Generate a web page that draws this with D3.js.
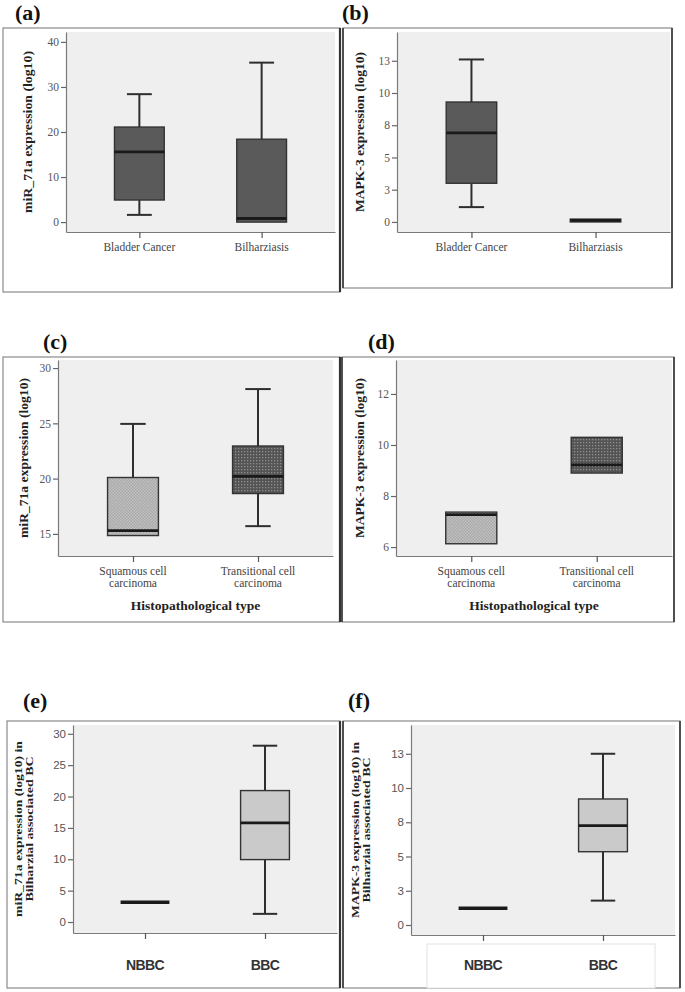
<!DOCTYPE html>
<html>
<head>
<meta charset="utf-8">
<script src="https://cdn.jsdelivr.net/npm/d3@7"></script>
<style>
  html, body { margin: 0; padding: 0; background: #ffffff; }
  svg { display: block; }
</style>
</head>
<body>
<div id="chart"></div>
<script>
// ---------------- DATA ----------------
// (a) miR_71a expression
const panelA_categories = ["Bladder Cancer", "Bilharziasis"];
const panelA_min    = [1.6, 0.0];
const panelA_q1     = [4.9, 0.0];
const panelA_median = [15.6, 0.8];
const panelA_q3     = [21.1, 18.4];
const panelA_max    = [28.4, 35.4];
const panelA_ticks = [0, 10, 20, 30, 40];
const panelA_tickLabels = ["0", "10", "20", "30", "40"];

// (b) MAPK-3 expression
const panelB_categories = ["Bladder Cancer", "Bilharziasis"];
const panelB_min    = [1.15, 0.0];
const panelB_q1     = [3.0, 0.0];
const panelB_median = [6.9, 0.12];
const panelB_q3     = [9.3, 0.22];
const panelB_max    = [12.6, 0.22];
const panelB_ticks = [0, 2.5, 5, 7.5, 10, 12.5];
const panelB_tickLabels = ["0", "3", "5", "8", "10", "13"];

// (c) miR_71a by histopathological type
const panelC_categories = [["Squamous cell", "carcinoma"], ["Transitional cell", "carcinoma"]];
const panelC_min    = [14.85, 15.7];
const panelC_q1     = [14.85, 18.65];
const panelC_median = [15.3, 20.2];
const panelC_q3     = [20.1, 22.95];
const panelC_max    = [24.95, 28.1];
const panelC_ticks = [15, 20, 25, 30];
const panelC_tickLabels = ["15", "20", "25", "30"];

// (d) MAPK-3 by histopathological type
const panelD_categories = [["Squamous cell", "carcinoma"], ["Transitional cell", "carcinoma"]];
const panelD_min    = [6.13, 8.9];
const panelD_q1     = [6.13, 8.9];
const panelD_median = [7.27, 9.22];
const panelD_q3     = [7.37, 10.3];
const panelD_max    = [7.37, 10.3];
const panelD_ticks = [6, 8, 10, 12];
const panelD_tickLabels = ["6", "8", "10", "12"];

// (e) miR_71a in Bilharzial associated BC
const panelE_categories = ["NBBC", "BBC"];
const panelE_min    = [3.15, 1.3];
const panelE_q1     = [3.15, 9.95];
const panelE_median = [3.15, 15.8];
const panelE_q3     = [3.15, 20.95];
const panelE_max    = [3.15, 28.1];
const panelE_ticks = [0, 5, 10, 15, 20, 25, 30];
const panelE_tickLabels = ["0", "5", "10", "15", "20", "25", "30"];

// (f) MAPK-3 in Bilharzial associated BC
const panelF_categories = ["NBBC", "BBC"];
const panelF_min    = [1.22, 1.78];
const panelF_q1     = [1.22, 5.35];
const panelF_median = [1.22, 7.25];
const panelF_q3     = [1.22, 9.2];
const panelF_max    = [1.22, 12.5];
const panelF_ticks = [0, 2.5, 5, 7.5, 10, 12.5];
const panelF_tickLabels = ["0", "3", "5", "8", "10", "13"];

// ---------------- LAYOUT ----------------
const W = 685, H = 992;
const svg = d3.select("#chart").append("svg")
  .attr("width", W).attr("height", H)
  .attr("viewBox", `0 0 ${W} ${H}`);

const defs = svg.append("defs");
const pl = defs.append("pattern").attr("id", "checkLight")
  .attr("patternUnits", "userSpaceOnUse").attr("width", 3).attr("height", 3);
pl.append("rect").attr("width", 3).attr("height", 3).attr("fill", "#c2c2c2");
pl.append("rect").attr("x", 0).attr("y", 0).attr("width", 1.5).attr("height", 1.5).attr("fill", "#a6a6a6");
pl.append("rect").attr("x", 1.5).attr("y", 1.5).attr("width", 1.5).attr("height", 1.5).attr("fill", "#a6a6a6");

const pd = defs.append("pattern").attr("id", "dotsDark")
  .attr("patternUnits", "userSpaceOnUse").attr("width", 3).attr("height", 3);
pd.append("rect").attr("width", 3).attr("height", 3).attr("fill", "#545454");
pd.append("rect").attr("x", 1).attr("y", 1).attr("width", 1.3).attr("height", 1.3).attr("fill", "#8e8e8e");

const SERIF = "'Liberation Serif', 'DejaVu Serif', serif";
const SANS = "'Liberation Sans', 'DejaVu Sans', sans-serif";

function pack(cats, mn, q1, md, q3, mx) {
  return cats.map((c, i) => ({ cat: c, key: "k" + i, min: mn[i], q1: q1[i], median: md[i], q3: q3[i], max: mx[i] }));
}

const panels = [
  { data: pack(panelA_categories, panelA_min, panelA_q1, panelA_median, panelA_q3, panelA_max),
    ticks: panelA_ticks, tickLabels: panelA_tickLabels, domain: [-2.2, 42.2],
    frame: [3, 28, 340, 292], plot: [66, 32, 335, 232], label: "(a)", labelPos: [15, 20],
    title: ["miR_71a expression (log10)"], titleLen: [162], titleX: 32, fills: ["#5a5a5a", "#5a5a5a"],
    catFont: SERIF, tickFont: SERIF, catY: 251 },
  { data: pack(panelB_categories, panelB_min, panelB_q1, panelB_median, panelB_q3, panelB_max),
    ticks: panelB_ticks, tickLabels: panelB_tickLabels, domain: [-0.78, 14.73],
    frame: [343, 28, 672, 288], plot: [397, 32, 670, 232], label: "(b)", labelPos: [342, 20],
    title: ["MAPK-3 expression (log10)"], titleLen: [160], titleX: 364, fills: ["#5a5a5a", "#5a5a5a"],
    catFont: SERIF, tickFont: SERIF, catY: 251 },
  { data: pack(panelC_categories, panelC_min, panelC_q1, panelC_median, panelC_q3, panelC_max),
    ticks: panelC_ticks, tickLabels: panelC_tickLabels, domain: [13.0, 30.73],
    frame: [3, 357, 340, 622], plot: [58, 360, 333, 556], label: "(c)", labelPos: [43, 349],
    title: ["miR_71a expression (log10)"], titleLen: [160], titleX: 28, fills: ["url(#checkLight)", "url(#dotsDark)"],
    catFont: SERIF, tickFont: SERIF, catY: 575, xTitle: "Histopathological type", xTitleY: 610 },
  { data: pack(panelD_categories, panelD_min, panelD_q1, panelD_median, panelD_q3, panelD_max),
    ticks: panelD_ticks, tickLabels: panelD_tickLabels, domain: [5.65, 13.33],
    frame: [342, 357, 674, 622], plot: [396, 360, 672, 556], label: "(d)", labelPos: [368, 349],
    title: ["MAPK-3 expression (log10)"], titleLen: [160], titleX: 364, fills: ["url(#checkLight)", "url(#dotsDark)"],
    catFont: SERIF, tickFont: SERIF, catY: 575, xTitle: "Histopathological type", xTitleY: 610 },
  { data: pack(panelE_categories, panelE_min, panelE_q1, panelE_median, panelE_q3, panelE_max),
    ticks: panelE_ticks, tickLabels: panelE_tickLabels, domain: [-1.75, 31.4],
    frame: [7, 721, 340, 988], plot: [73, 725, 337, 933], label: "(e)", labelPos: [23, 708],
    title: ["miR_71a expression (log10) in", "Bilharzial associated BC"], titleLen: [176, 145], titleX: 27,
    fills: ["#cacaca", "#cacaca"], catFont: SANS, tickFont: SANS, catY: 970, bigCats: true },
  { data: pack(panelF_categories, panelF_min, panelF_q1, panelF_median, panelF_q3, panelF_max),
    ticks: panelF_ticks, tickLabels: panelF_tickLabels, domain: [-0.73, 14.6],
    frame: [343, 721, 680, 988], plot: [411, 725, 675, 935], label: "(f)", labelPos: [348, 708],
    title: ["MAPK-3 expression (log10) in", "Bilharzial associated BC"], titleLen: [176, 145], titleX: 364,
    fills: ["#cacaca", "#cacaca"], catFont: SANS, tickFont: SANS, catY: 970, bigCats: true,
    whiteBox: [427, 944, 655, 988] }
];

function drawPanel(p) {
  const g = svg.append("g");
  const [fx0, fy0, fx1, fy1] = p.frame;
  const [px0, py0, px1, py1] = p.plot;

  g.append("rect").attr("x", fx0).attr("y", fy0).attr("width", fx1 - fx0).attr("height", fy1 - fy0)
    .attr("fill", "#ffffff").attr("stroke", "#8a8a8a").attr("stroke-width", 1.2);

  if (p.whiteBox) {
    const [wx0, wy0, wx1, wy1] = p.whiteBox;
    g.append("rect").attr("x", wx0).attr("y", wy0).attr("width", wx1 - wx0).attr("height", wy1 - wy0)
      .attr("fill", "#ffffff").attr("stroke", "#e2e2e2").attr("stroke-width", 1);
  }

  g.append("rect").attr("x", px0).attr("y", py0).attr("width", px1 - px0).attr("height", py1 - py0)
    .attr("fill", "#efefef");

  svg.append("text").attr("x", p.labelPos[0]).attr("y", p.labelPos[1])
    .attr("font-family", SERIF).attr("font-weight", "bold").attr("font-size", 22)
    .attr("fill", "#111").text(p.label);

  const y = d3.scaleLinear().domain(p.domain).range([py1, py0]);
  const x = d3.scalePoint().domain(p.data.map(d => d.key)).range([px0, px1]).padding(0.6);
  const bw = (px1 - px0) * 0.185;

  const ya = g.append("g").attr("transform", `translate(${px0},0)`)
    .call(d3.axisLeft(y).tickValues(p.ticks).tickFormat((d, i) => p.tickLabels[i]).tickSize(5).tickSizeOuter(0));
  ya.select(".domain").attr("stroke", "#7a7a7a").attr("stroke-width", 1.2);
  ya.selectAll(".tick line").attr("stroke", "#666").attr("stroke-width", 1.2);
  ya.selectAll(".tick text").attr("font-family", p.tickFont).attr("font-size", 11.5)
    .attr("fill", "#555").attr("x", -7);

  const xa = g.append("g").attr("transform", `translate(0,${py1})`)
    .call(d3.axisBottom(x).tickSize(6).tickSizeOuter(0).tickFormat(""));
  xa.select(".domain").attr("stroke", "#7a7a7a").attr("stroke-width", 1.2);
  xa.selectAll(".tick line").attr("stroke", "#555").attr("stroke-width", 1.2);

  p.data.forEach(d => {
    const lines = Array.isArray(d.cat) ? d.cat : [d.cat];
    const t = g.append("text").attr("x", x(d.key)).attr("y", p.catY)
      .attr("text-anchor", "middle").attr("font-family", p.catFont)
      .attr("font-size", p.bigCats ? 14 : 11.5)
      .attr("font-weight", p.bigCats ? "bold" : "normal")
      .attr("letter-spacing", p.bigCats ? -0.6 : 0)
      .attr("fill", p.bigCats ? "#333" : "#444");
    lines.forEach((ln, i) => {
      t.append("tspan").attr("x", x(d.key)).attr("dy", i === 0 ? 0 : "1.05em").text(ln);
    });
  });

  if (p.xTitle) {
    g.append("text").attr("x", (px0 + px1) / 2).attr("y", p.xTitleY)
      .attr("text-anchor", "middle").attr("font-family", SERIF).attr("font-weight", "bold")
      .attr("font-size", 13.5).attr("fill", "#222").text(p.xTitle);
  }

  const cy = (py0 + py1) / 2;
  const multi = p.title.length > 1;
  p.title.forEach((ln, i) => {
    const off = multi ? (i === 0 ? -5.5 : 5.5) : 0;
    g.append("text").attr("transform", `translate(${p.titleX + off},${cy}) rotate(-90)`)
      .attr("text-anchor", "middle").attr("font-family", SERIF).attr("font-weight", "bold")
      .attr("font-size", multi ? 10.5 : 12.5).attr("fill", "#222")
      .attr("textLength", p.titleLen[i]).attr("lengthAdjust", "spacingAndGlyphs")
      .text(ln);
  });

  p.data.forEach((d, i) => {
    const cx = x(d.key);
    const bg = g.append("g");
    if (d.max > d.q3) {
      bg.append("line").attr("x1", cx).attr("x2", cx).attr("y1", y(d.q3)).attr("y2", y(d.max))
        .attr("stroke", "#2e2e2e").attr("stroke-width", 2);
      bg.append("line").attr("x1", cx - bw / 4).attr("x2", cx + bw / 4).attr("y1", y(d.max)).attr("y2", y(d.max))
        .attr("stroke", "#2e2e2e").attr("stroke-width", 2);
    }
    if (d.min < d.q1) {
      bg.append("line").attr("x1", cx).attr("x2", cx).attr("y1", y(d.q1)).attr("y2", y(d.min))
        .attr("stroke", "#2e2e2e").attr("stroke-width", 2);
      bg.append("line").attr("x1", cx - bw / 4).attr("x2", cx + bw / 4).attr("y1", y(d.min)).attr("y2", y(d.min))
        .attr("stroke", "#2e2e2e").attr("stroke-width", 2);
    }
    if (d.q3 > d.q1) {
      bg.append("rect").attr("x", cx - bw / 2).attr("y", y(d.q3)).attr("width", bw)
        .attr("height", y(d.q1) - y(d.q3))
        .attr("fill", p.fills[i]).attr("stroke", "#333").attr("stroke-width", 1.4);
    }
    bg.append("line").attr("x1", cx - bw / 2).attr("x2", cx + bw / 2)
      .attr("y1", y(d.median)).attr("y2", y(d.median))
      .attr("stroke", "#1a1a1a").attr("stroke-width", d.q3 > d.q1 ? 2.8 : 3.5);
  });

  if (fx0 < 300) {
    g.append("line").attr("x1", fx1).attr("x2", fx1).attr("y1", fy0).attr("y2", fy1)
      .attr("stroke", "#333").attr("stroke-width", 2.2);
  } else {
    g.append("line").attr("x1", fx1).attr("x2", fx1).attr("y1", fy0).attr("y2", fy1)
      .attr("stroke", "#444").attr("stroke-width", 1.8);
    g.append("line").attr("x1", fx0).attr("x2", fx0).attr("y1", fy0).attr("y2", fy1)
      .attr("stroke", "#444").attr("stroke-width", 1.8);
  }
}

panels.forEach(drawPanel);
</script>
</body>
</html>
